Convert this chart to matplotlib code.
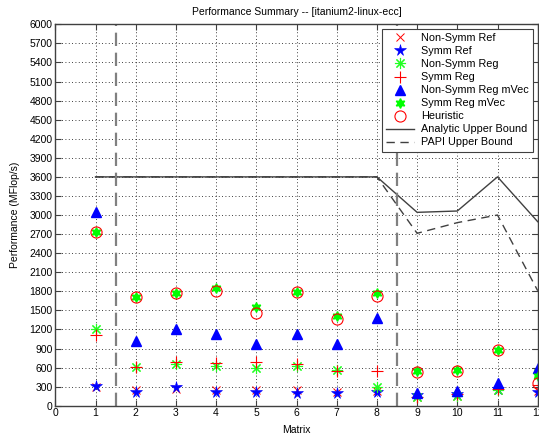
import numpy as np
import matplotlib
matplotlib.use('Agg')
import matplotlib.pyplot as plt

plt.rcParams['font.family'] = ['Liberation Sans', 'DejaVu Sans']
plt.rcParams['font.size'] = 7

matrices = np.arange(1, 13)

# performance in MFlop/s
nonsymm_ref = [290, 240, 260, 240, 240, 250, 220, 230, 140, 160, 250, 230]
symm_ref = [310, 210, 300, 210, 210, 205, 205, 210, 170, 190, 260, 220]
nonsymm_reg = [1200, 614, 650, 630, 593, 626, 563, 300, 140, 150, 240, 520]
symm_reg = [1120, 614, 687, 677, 683, 660, 547, 553, 140, 180, 270, 330]
nonsymm_reg_mvec = [3050, 1023, 1206, 1128, 966, 1131, 974, 1374, 200, 230, 360, 600]
symm_reg_mvec = [2740, 1715, 1775, 1856, 1548, 1784, 1405, 1774, 545, 555, 880, 470]
heuristic = [2737, 1715, 1778, 1809, 1453, 1784, 1368, 1726, 537, 548, 871, 350]
analytic_ub = [3600, 3600, 3600, 3600, 3600, 3600, 3600, 3600, 3042, 3063, 3600, 2895]
papi_ub = [3600, 3600, 3600, 3600, 3600, 3600, 3600, 3600, 2712, 2880, 3000, 1809]
separators = [1.5, 8.5]

fig = plt.figure(figsize=(5.39, 4.38), dpi=100)
ax = fig.add_axes([0.1026, 0.0737, 0.895, 0.8708])

ax.plot(matrices, nonsymm_ref, 'x', color='red', ms=5.5, mew=0.7, label='Non-Symm Ref')
ax.plot(matrices, symm_ref, '*', color='blue', ms=8.5, mew=0.4, label='Symm Ref')
ax.plot(matrices, nonsymm_reg, marker=(8, 2, 0), ls='none', color='#22ff22', ms=8, mew=0.8,
        label='Non-Symm Reg')
ax.plot(matrices, symm_reg, '+', color='red', ms=9, mew=0.8, label='Symm Reg')
ax.plot(matrices, nonsymm_reg_mvec, '^', color='blue', ms=7.5, label='Non-Symm Reg mVec')
ax.plot(matrices, symm_reg_mvec, marker=(6, 1, 0), ls='none', color='#00ff00', ms=7,
        label='Symm Reg mVec')
ax.plot(matrices, heuristic, 'o', mfc='none', mec='red', ms=8, mew=0.8, label='Heuristic')
ax.plot(matrices, analytic_ub, '-', color='#404040', lw=1, label='Analytic Upper Bound')
ax.plot(matrices, papi_ub, '--', color='#404040', lw=1, dashes=(6, 4), label='PAPI Upper Bound')

for xs in separators:
    ax.axvline(xs, color='#808080', lw=1.6, ls=(0, (6, 3)))

ax.set_xlim(0, 12)
ax.set_ylim(0, 6000)
ax.set_xticks(np.arange(0, 13))
ax.set_yticks(np.arange(0, 6001, 300))
ax.grid(True, color='black', ls=(0, (1, 3)), lw=0.6)
ax.tick_params(direction='in', top=True, right=True, length=4, width=0.8,
               color='#404040', labelsize=7.5, pad=2)
for s in ax.spines.values():
    s.set_color('#404040')
    s.set_linewidth(1)

ax.set_title('Performance Summary -- [itanium2-linux-ecc]', fontsize=7.5, pad=7)
ax.set_xlabel('Matrix', fontsize=7.5, labelpad=5)
ax.set_ylabel('Performance (MFlop/s)', fontsize=7.5, labelpad=7)

leg = ax.legend(loc='upper right', bbox_to_anchor=(0.99, 0.988), fancybox=False,
                edgecolor='#404040', framealpha=1, fontsize=7.8, handlelength=2.6,
                labelspacing=0.28, borderpad=0.4, handletextpad=0.6, borderaxespad=0)
leg.get_frame().set_linewidth(0.8)

fig.savefig('out.png', dpi=100)
